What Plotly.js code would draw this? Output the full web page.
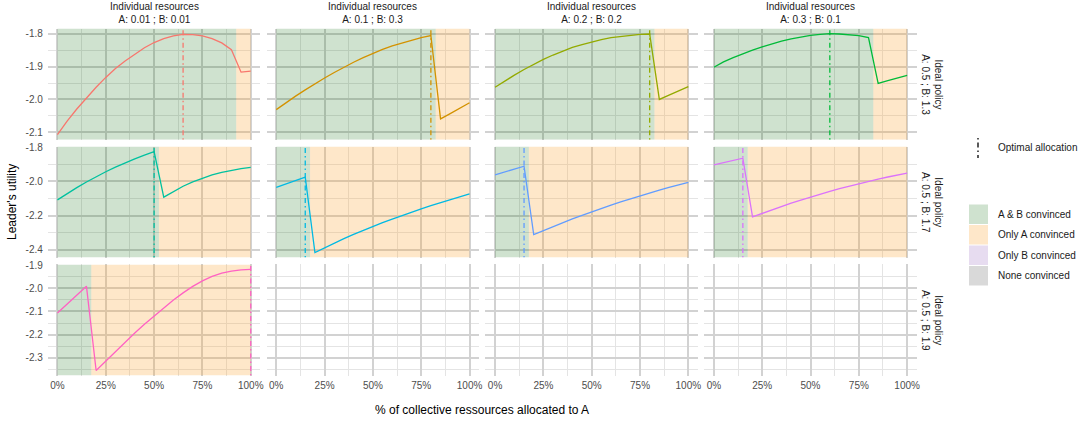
<!DOCTYPE html>
<html><head><meta charset="utf-8">
<script src="https://cdn.plot.ly/plotly-3.0.1.min.js"></script>
<style>html,body{margin:0;padding:0;background:#fff}</style>
</head><body><div id="chart" style="width:1081px;height:428px"></div>
<script>
// ---------- data ----------
const allocation = [0,0.05,0.10,0.15,0.20,0.25,0.30,0.35,0.40,0.45,0.50,0.55,0.60,0.65,0.70,0.75,0.80,0.85,0.90,0.95,1.00];

const colLabels = ["A: 0.01 ; B: 0.01","A: 0.1 ; B: 0.3","A: 0.2 ; B: 0.2","A: 0.3 ; B: 0.1"];
const rowLabels = ["A: 0.5 ; B: 1.3","A: 0.5 ; B: 1.7","A: 0.5 ; B: 1.9"];
const colTitle = "Individual resources";
const rowTitle = "Ideal policy";

// leader's utility, row = ideal policy, col = individual resources
const u_r1c1 = [-2.107,-2.066,-2.029,-1.995,-1.963,-1.933,-1.906,-1.883,-1.862,-1.843,-1.827,-1.815,-1.807,-1.802,-1.803,-1.807,-1.815,-1.828,-1.849,-1.917,-1.914];
const u_r1c2 = [-2.031,-2.010,-1.990,-1.971,-1.952,-1.935,-1.918,-1.902,-1.887,-1.873,-1.860,-1.848,-1.837,-1.828,-1.819,-1.812,-1.806,-2.059,-2.043,-2.026,-2.010];
const u_r1c3 = [-1.963,-1.944,-1.926,-1.909,-1.893,-1.878,-1.865,-1.853,-1.842,-1.833,-1.825,-1.818,-1.812,-1.808,-1.804,-1.802,-1.801,-2.000,-1.987,-1.974,-1.961];
const u_r1c4 = [-1.902,-1.886,-1.873,-1.861,-1.850,-1.840,-1.831,-1.823,-1.816,-1.810,-1.805,-1.802,-1.800,-1.801,-1.803,-1.806,-1.812,-1.951,-1.943,-1.935,-1.927];
const u_r2c1 = [-2.108,-2.071,-2.036,-2.003,-1.972,-1.943,-1.916,-1.891,-1.868,-1.846,-1.825,-2.092,-2.058,-2.028,-2.002,-1.980,-1.962,-1.947,-1.935,-1.925,-1.918];
const u_r2c2 = [-2.034,-2.014,-1.994,-1.975,-2.416,-2.388,-2.361,-2.335,-2.310,-2.286,-2.263,-2.241,-2.220,-2.199,-2.179,-2.160,-2.142,-2.125,-2.109,-2.090,-2.073];
const u_r2c3 = [-1.961,-1.944,-1.927,-1.911,-2.311,-2.287,-2.264,-2.241,-2.219,-2.198,-2.177,-2.157,-2.138,-2.119,-2.101,-2.084,-2.067,-2.051,-2.035,-2.020,-2.005];
const u_r2c4 = [-1.903,-1.890,-1.877,-1.864,-2.207,-2.186,-2.166,-2.146,-2.127,-2.109,-2.091,-2.074,-2.058,-2.042,-2.027,-2.013,-1.999,-1.986,-1.974,-1.962,-1.951];
const u_r3c1 = [-2.107,-2.068,-2.029,-1.991,-2.354,-2.313,-2.272,-2.232,-2.193,-2.155,-2.119,-2.084,-2.051,-2.020,-1.992,-1.968,-1.949,-1.935,-1.926,-1.921,-1.919];

const series = [
  [u_r1c1,u_r1c2,u_r1c3,u_r1c4],
  [u_r2c1,u_r2c2,u_r2c3,u_r2c4],
  [u_r3c1,null,null,null]
];
const lineColors = [
  ["#F8766D","#D39200","#93AA00","#00BA38"],
  ["#00C19F","#00B9E3","#619CFF","#DB72FB"],
  ["#FF61C3",null,null,null]
];
// optimal allocation per panel
const optimal = [[0.65,0.80,0.80,0.60],[0.50,0.15,0.15,0.15],[1.00,null,null,null]];
// end of the "A & B convinced" region (rest up to 100% is "Only A convinced")
const bothEnd = [[0.925,0.825,0.825,0.825],[0.525,0.175,0.175,0.175],[0.175,null,null,null]];

const xTickVals = [0,0.25,0.5,0.75,1];
const xTickText = ["0%","25%","50%","75%","100%"];
const yTickVals = [[-1.8,-1.9,-2.0,-2.1],[-1.8,-2.0,-2.2,-2.4],[-1.9,-2.0,-2.1,-2.2,-2.3]];
const yTickText = [["-1.8","-1.9","-2.0","-2.1"],["-1.8","-2.0","-2.2","-2.4"],["-1.9","-2.0","-2.1","-2.2","-2.3"]];
const yMinorVals = [[-1.85,-1.95,-2.05],[-1.9,-2.1,-2.3],[-1.95,-2.05,-2.15,-2.25,-2.35]];
const xMinorVals = [0.125,0.375,0.625,0.875];

const legendFillLabels = ["A & B convinced","Only A convinced","Only B convinced","None convinced"];
const legendLineLabel = "Optimal allocation";

// ---------- styling ----------
const W = 1081, H = 428;
const FONT = "Liberation Sans, Arial, Helvetica, sans-serif";
const fillColors = ["rgba(0,100,0,0.19)","rgba(250,160,40,0.25)","rgba(120,60,170,0.18)","rgba(128,128,128,0.3)"];
const colLeft = [47.8,266.6,485.4,704.2], colW = 212.6;
const rowTop = [28.6,146.5,264.4], rowH = 111.1;
const fx = p => p / W, fy = p => 1 - p / H;
const DASH = "1.5px,3px,5px,3px";
const MAJOR = {color:"#d2d2d2", width:2}, MINOR = {color:"#e4e4e4", width:1};

const traces = [], shapes = [], annotations = [];
const layout = {
  width: W, height: H, margin: {l:0,r:0,t:0,b:0},
  paper_bgcolor: "#fff", plot_bgcolor: "#fff", showlegend: false,
  font: {family: FONT, size: 10, color: "#4d4d4d"}
};

function rectTrace(x0, x1, lo, hi, color, xa, ya) {
  return {type:"scatter", mode:"lines", x:[x0,x1,x1,x0,x0], y:[lo,lo,hi,hi,lo], xaxis:xa, yaxis:ya,
    fill:"toself", fillcolor: color, line:{width:0, color:"rgba(0,0,0,0)"}, hoverinfo:"skip"};
}

for (let r = 0; r < 3; r++) {
  // row range from data, expanded by 5%
  let vals = [];
  series[r].forEach(s => { if (s) vals = vals.concat(s); });
  const mn = Math.min(...vals), mx = Math.max(...vals), pad = 0.05 * (mx - mn);
  const lo = mn - pad, hi = mx + pad;
  for (let c = 0; c < 4; c++) {
    const i = r * 4 + c + 1;
    const xa = "x" + i, ya = "y" + i;
    layout["xaxis" + i] = {
      domain: [fx(colLeft[c]), fx(colLeft[c] + colW)], anchor: ya,
      range: [-0.05, 1.05], tickmode: "array", tickvals: xTickVals, ticktext: xTickText,
      showticklabels: r === 2, ticks: "", ticklabelstandoff: 2,
      showgrid: true, gridcolor: MAJOR.color, gridwidth: MAJOR.width, zeroline: false, showline: false,
      minor: {tickmode:"array", tickvals: xMinorVals, showgrid: true, gridcolor: MINOR.color, gridwidth: MINOR.width},
      tickfont: {family: FONT, size: 10, color: "#4d4d4d"}, fixedrange: true
    };
    layout["yaxis" + i] = {
      domain: [fy(rowTop[r] + rowH), fy(rowTop[r])], anchor: xa,
      range: [lo, hi], tickmode: "array", tickvals: yTickVals[r], ticktext: yTickText[r],
      showticklabels: c === 0, ticks: "", ticklabelstandoff: 4,
      showgrid: true, gridcolor: MAJOR.color, gridwidth: MAJOR.width, zeroline: false, showline: false,
      minor: {tickmode:"array", tickvals: yMinorVals[r], showgrid: true, gridcolor: MINOR.color, gridwidth: MINOR.width},
      tickfont: {family: FONT, size: 10, color: "#4d4d4d"}, fixedrange: true
    };
    const s = series[r][c];
    if (s) {
      traces.push(rectTrace(0, bothEnd[r][c], lo, hi, fillColors[0], xa, ya));
      traces.push(rectTrace(bothEnd[r][c], 1, lo, hi, fillColors[1], xa, ya));
      traces.push({type:"scatter", mode:"lines", x: allocation, y: s, xaxis: xa, yaxis: ya,
        line:{color: lineColors[r][c], width: 1.3}, hoverinfo:"skip"});
      traces.push({type:"scatter", mode:"lines", x:[optimal[r][c], optimal[r][c]], y:[lo, hi], xaxis: xa, yaxis: ya,
        line:{color: lineColors[r][c], width: 1.3, dash: DASH}, hoverinfo:"skip"});
    } else {
      traces.push({type:"scatter", mode:"lines", x: [], y: [], xaxis: xa, yaxis: ya, hoverinfo:"skip"});
    }
  }
}

// strip labels
for (let c = 0; c < 4; c++) {
  annotations.push({xref:"paper", yref:"paper", x: fx(colLeft[c] + colW/2), y: fy(27.5),
    xanchor:"center", yanchor:"bottom", showarrow:false,
    text: colTitle + "<br>" + colLabels[c], font:{family:FONT, size:10, color:"#1a1a1a"}});
}
for (let r = 0; r < 3; r++) {
  annotations.push({xref:"paper", yref:"paper", x: fx(932), y: fy(rowTop[r] + rowH/2),
    xanchor:"center", yanchor:"middle", showarrow:false, textangle: 90,
    text: rowTitle + "<br>" + rowLabels[r], font:{family:FONT, size:10, color:"#1a1a1a"}});
}
// axis titles
annotations.push({xref:"paper", yref:"paper", x: fx(482), y: fy(410), xanchor:"center", yanchor:"middle",
  showarrow:false, text:"% of collective ressources allocated to A", font:{family:FONT, size:12, color:"#000"}});
annotations.push({xref:"paper", yref:"paper", x: fx(12), y: fy(202), xanchor:"center", yanchor:"middle",
  showarrow:false, textangle:-90, text:"Leader's utility", font:{family:FONT, size:12, color:"#000"}});

// legend: optimal allocation
shapes.push({type:"line", xref:"paper", yref:"paper", x0:fx(978), x1:fx(978), y0:fy(138), y1:fy(158),
  line:{color:"#000", width:1.3, dash: DASH}});
annotations.push({xref:"paper", yref:"paper", x: fx(995.5), y: fy(148), xanchor:"left", yanchor:"middle",
  showarrow:false, text: legendLineLabel, font:{family:FONT, size:10, color:"#1a1a1a"}});
// legend: fills
const boxTop = [204.5, 225, 245.5, 266];
for (let k = 0; k < 4; k++) {
  shapes.push({type:"rect", xref:"paper", yref:"paper", x0:fx(969), x1:fx(988), y0:fy(boxTop[k]+19.5), y1:fy(boxTop[k]),
    fillcolor: fillColors[k], line:{width:0}});
  annotations.push({xref:"paper", yref:"paper", x: fx(995.5), y: fy(boxTop[k] + 9.8), xanchor:"left", yanchor:"middle",
    showarrow:false, text: legendFillLabels[k], font:{family:FONT, size:10, color:"#1a1a1a"}});
}

layout.shapes = shapes;
layout.annotations = annotations;
Plotly.newPlot("chart", traces, layout, {displayModeBar:false, staticPlot:true});
</script></body></html>
